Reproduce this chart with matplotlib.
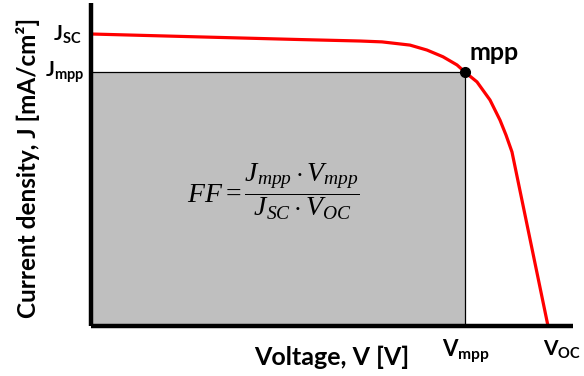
import matplotlib.pyplot as plt
from matplotlib.patches import Rectangle

# J-V curve of a solar cell, normalised so that Voc = 1 and Jsc = 1
voltage = [0.0, 0.2385, 0.4573, 0.5886, 0.6368, 0.698, 0.7352, 0.7702,
           0.8009, 0.818, 0.8446, 0.8731, 0.895, 0.9081, 0.9212, 1.0]
current = [1.0, 0.990, 0.981, 0.976, 0.973, 0.962, 0.945, 0.922,
           0.894, 0.870, 0.836, 0.774, 0.705, 0.654, 0.596, 0.0]

v_mpp = 0.818
j_mpp = 0.870
j_sc = 1.0
v_oc = 1.0

plt.rcParams['font.family'] = ['Lato', 'DejaVu Sans']
plt.rcParams['mathtext.fontset'] = 'custom'
plt.rcParams['mathtext.rm'] = 'Liberation Serif'
plt.rcParams['mathtext.it'] = 'Liberation Serif:italic'
plt.rcParams['mathtext.bf'] = 'Lato:bold'

fig = plt.figure(figsize=(5.84, 3.76), dpi=100)
ax = fig.add_axes([91 / 584, 50 / 376, 482 / 584, 323 / 376])
ax.set_xlim(0, 482 / 457)
ax.set_ylim(0, 323 / 292)

# maximum power rectangle
ax.add_patch(Rectangle((0, 0), v_mpp, j_mpp, facecolor='#bfbfbf',
                       edgecolor='black', linewidth=0.9, zorder=1))

ax.plot(voltage, current, color='#ff0000', linewidth=2.3, zorder=2,
        clip_on=False, solid_joinstyle='round')
ax.plot([v_mpp], [j_mpp], 'o', color='black', markersize=7, zorder=3)
ax.text(v_mpp + 0.01, 0.911, 'mpp', fontsize=18, fontweight='bold',
        ha='left', va='baseline')

ax.text(0.40, 0.46,
        r'$FF = \dfrac{J_{mpp}\cdot V_{mpp}}{J_{SC}\cdot V_{OC}}$',
        fontsize=20, ha='center', va='center')

for side in ['top', 'right']:
    ax.spines[side].set_visible(False)
for side in ['left', 'bottom']:
    ax.spines[side].set_linewidth(3.2)
    ax.spines[side].set_color('black')
    ax.spines[side].set_capstyle('butt')

ax.set_xticks([])
ax.set_yticks([])

# axis value labels
ax.text(-0.02, j_sc, r'J$_{\mathbf{SC}}$', fontsize=15, fontweight='bold',
        ha='right', va='center')
ax.text(-0.015, j_mpp, r'J$_{\mathbf{mpp}}$', fontsize=15, fontweight='bold',
        ha='right', va='center')
ax.text(v_mpp - 0.05, -0.04, r'V$_{\mathbf{mpp}}$', fontsize=16,
        fontweight='bold', ha='left', va='top')
ax.text(v_oc - 0.01, -0.04, r'V$_{\mathbf{OC}}$', fontsize=15,
        fontweight='bold', ha='left', va='top')

ax.set_xlabel('Voltage, V [V]', fontsize=18, fontweight='bold', labelpad=14)
ax.set_ylabel('Current density, J [mA/cm²]', fontsize=17.5,
              fontweight='bold', labelpad=37, y=0.49)

fig.savefig('out.png', dpi=100)
